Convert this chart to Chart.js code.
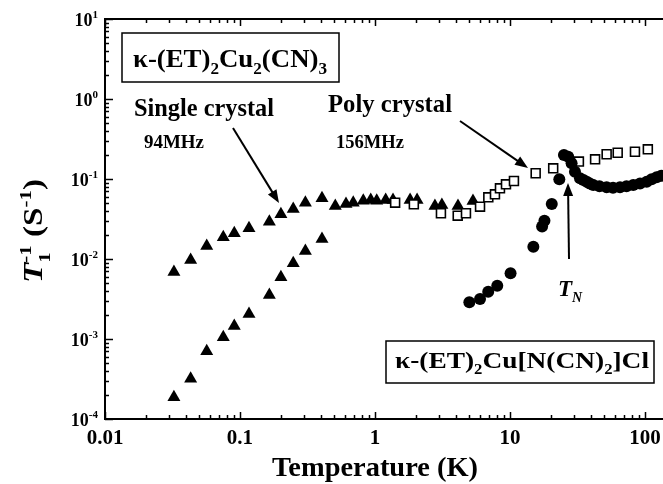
<!DOCTYPE html>
<html>
<head>
<meta charset="utf-8">
<script src="https://cdn.jsdelivr.net/npm/chart.js@4.4.0/dist/chart.umd.min.js"></script>
<style>
html, body { margin: 0; padding: 0; background: #fff; }
</style>
</head>
<body>
<canvas id="t1chart" width="663" height="484"></canvas>
<script>
// kappa-(ET)2Cu2(CN)3, single crystal 94MHz (two components)
var singleT = [0.0324, 0.0431, 0.0567, 0.0752, 0.0907, 0.1166, 0.165, 0.201, 0.248, 0.305, 0.405,
  0.508, 0.61, 0.69, 0.819, 0.93, 1.03, 1.2, 1.36, 1.82, 2.05, 2.78, 3.13, 4.12, 5.32];
var singleRate = [0.00688, 0.00972, 0.01454, 0.01866, 0.02095, 0.0242, 0.0292, 0.0362, 0.0422, 0.0506, 0.0574,
  0.046, 0.0487, 0.0506, 0.0536, 0.0546, 0.0536, 0.0546, 0.0546, 0.0546, 0.0546, 0.046, 0.0473, 0.046, 0.053];
var singleLowT = [0.0324, 0.0431, 0.0567, 0.0752, 0.0907, 0.1166, 0.165, 0.201, 0.248, 0.305, 0.405];
var singleLowRate = [0.000187, 0.000319, 0.000702, 0.00105, 0.00145, 0.00205, 0.00355, 0.0059, 0.00884, 0.0126, 0.0178];

// poly crystal 156MHz
var polyT = [1.41, 1.94, 3.08, 4.1, 4.72, 6.0, 6.91, 7.74, 8.43, 9.34, 10.7, 15.5, 20.9, 32.4, 42.7, 52, 62.8, 84.3, 105];
var polyRate = [0.0506, 0.0483, 0.0373, 0.0348, 0.0373, 0.0451, 0.059, 0.0644, 0.0765, 0.0859, 0.0944,
  0.118, 0.136, 0.165, 0.176, 0.204, 0.213, 0.219, 0.235];

// kappa-(ET)2Cu[N(CN)2]Cl
var clT = [5.0, 6.0, 6.9, 8.05, 10.1, 14.9, 17.3, 18, 20.4, 23.2, 25.1, 27, 28.6, 30.3, 33, 35, 37, 39, 41.4,
  46, 52, 58, 65.3, 73, 81.9, 92, 103, 112, 122, 132];
var clRate = [0.00288, 0.00316, 0.0039, 0.00464, 0.00663, 0.01425, 0.0254, 0.0301, 0.0487, 0.099, 0.2, 0.19,
  0.157, 0.123, 0.102, 0.097, 0.0925, 0.088, 0.0841, 0.081, 0.0787, 0.078, 0.0787, 0.081, 0.0841, 0.088,
  0.0925, 0.099, 0.105, 0.11];

var tempTicks = [0.01, 0.1, 1, 10, 100];
var tempTickLabels = ["0.01", "0.1", "1", "10", "100"];
var rateTicks = [1e-4, 1e-3, 1e-2, 1e-1, 1, 10];
var rateTickExp = ["-4", "-3", "-2", "-1", "0", "1"];

function pts(xs, ys) {
  return xs.map(function (x, i) { return { x: x, y: ys[i] }; });
}

var SERIF = '"Liberation Serif", "Times New Roman", serif';

// draws text with sub/superscripts; parts: {t, sub, sup, it, hold}
// fitW (optional) stretches the run horizontally to that width
function richText(ctx, parts, x, y, size, align, fitW) {
  function font(p) {
    var s = (p.sub || p.sup) ? Math.round(size * 0.62) : size;
    return (p.it ? "italic " : "") + "bold " + s + "px " + SERIF;
  }
  parts.forEach(function (p) { ctx.font = font(p); p.w = ctx.measureText(p.t).width; });
  var total = 0, hold = 0;
  parts.forEach(function (p) {
    if (p.hold) hold = p.w; else { total += Math.max(p.w, hold); hold = 0; }
  });
  var k = fitW ? fitW / total : 1;
  var w = total * k;
  var left = align === "center" ? x - w / 2 : align === "right" ? x - w : x;
  ctx.save();
  ctx.translate(left, y);
  ctx.scale(k, 1);
  ctx.textAlign = "left";
  ctx.textBaseline = "alphabetic";
  var cx = 0;
  hold = 0;
  parts.forEach(function (p) {
    ctx.font = font(p);
    var dy = p.sub ? size * 0.28 : p.sup ? -size * 0.42 : 0;
    ctx.fillText(p.t, cx, dy);
    if (p.hold) hold = p.w; else { cx += Math.max(p.w, hold); hold = 0; }
  });
  ctx.restore();
}

function arrow(ctx, x1, y1, x2, y2) {
  var ang = Math.atan2(y2 - y1, x2 - x1), hl = 13, hw = 5;
  ctx.beginPath();
  ctx.moveTo(x1, y1);
  ctx.lineTo(x2 - Math.cos(ang) * hl * 0.8, y2 - Math.sin(ang) * hl * 0.8);
  ctx.stroke();
  ctx.beginPath();
  ctx.moveTo(x2, y2);
  ctx.lineTo(x2 - Math.cos(ang) * hl - Math.sin(ang) * hw, y2 - Math.sin(ang) * hl + Math.cos(ang) * hw);
  ctx.lineTo(x2 - Math.cos(ang) * hl + Math.sin(ang) * hw, y2 - Math.sin(ang) * hl - Math.cos(ang) * hw);
  ctx.closePath();
  ctx.fill();
}

var framePlugin = {
  id: "frame",
  afterDraw: function (chart) {
    var ctx = chart.ctx, a = chart.chartArea, xs = chart.scales.x, ys = chart.scales.y;
    ctx.save();
    ctx.strokeStyle = "#000";
    ctx.fillStyle = "#000";

    // axes frame (right side runs off the picture)
    ctx.lineWidth = 2;
    ctx.beginPath();
    ctx.moveTo(a.right + 2, a.top);
    ctx.lineTo(a.left, a.top);
    ctx.lineTo(a.left, a.bottom);
    ctx.lineTo(a.right + 2, a.bottom);
    ctx.stroke();

    // minor and major ticks, pointing inward
    ctx.lineWidth = 1.5;
    tempTicks.forEach(function (d) {
      for (var m = 1; m <= 9; m++) {
        var v = d * m;
        if (v > xs.max) break;
        var px = Math.round(xs.getPixelForValue(v)) + 0.5, len = m === 1 ? 7 : 4;
        ctx.beginPath();
        ctx.moveTo(px, a.bottom); ctx.lineTo(px, a.bottom - len);
        ctx.moveTo(px, a.top); ctx.lineTo(px, a.top + len);
        ctx.stroke();
      }
    });
    rateTicks.forEach(function (d) {
      for (var m = 1; m <= 9; m++) {
        var v = d * m;
        if (v > ys.max) break;
        var py = Math.round(ys.getPixelForValue(v)) + 0.5, len = m === 1 ? 8 : 4;
        ctx.beginPath();
        ctx.moveTo(a.left, py); ctx.lineTo(a.left + len, py);
        ctx.stroke();
      }
    });

    // tick labels
    ctx.textAlign = "center";
    ctx.textBaseline = "middle";
    ctx.font = "bold 21px " + SERIF;
    tempTicks.forEach(function (v, i) {
      ctx.fillText(tempTickLabels[i], xs.getPixelForValue(v), 439);
    });
    rateTicks.forEach(function (v, i) {
      richText(ctx, [{ t: "10" }, { t: rateTickExp[i], sup: true }], 98, ys.getPixelForValue(v) + 7, 18, "right");
    });

    // axis titles
    richText(ctx, [{ t: "Temperature (K)" }], 375, 476, 27, "center", 206);
    ctx.save();
    ctx.translate(33, 231);
    ctx.rotate(-Math.PI / 2);
    richText(ctx, [{ t: "T", it: true }, { t: "-1", sup: true, hold: true }, { t: "1", sub: true },
      { t: " (S" }, { t: "-1", sup: true }, { t: ")" }], 0, 9, 27, "center", 104);
    ctx.restore();

    // compound boxes
    ctx.lineWidth = 1.5;
    ctx.fillStyle = "#fff";
    ctx.fillRect(122, 33, 217, 49);
    ctx.fillRect(386, 341, 268, 42);
    ctx.fillStyle = "#000";
    ctx.strokeRect(122, 33, 217, 49);
    ctx.strokeRect(386, 341, 268, 42);
    richText(ctx, [{ t: "\u03BA-(ET)" }, { t: "2", sub: true }, { t: "Cu" }, { t: "2", sub: true },
      { t: "(CN)" }, { t: "3", sub: true }], 230, 67, 25, "center", 194);
    richText(ctx, [{ t: "\u03BA-(ET)" }, { t: "2", sub: true }, { t: "Cu[N(CN)" }, { t: "2", sub: true },
      { t: "]Cl" }], 522, 368, 23, "center", 254);

    // sample labels
    richText(ctx, [{ t: "Single crystal" }], 134, 116, 25, "left", 140);
    richText(ctx, [{ t: "Poly crystal" }], 328, 112, 25, "left", 124);
    richText(ctx, [{ t: "94MHz" }], 144, 148, 18, "left", 60);
    richText(ctx, [{ t: "156MHz" }], 336, 148, 18, "left", 68);

    // arrows
    ctx.lineWidth = 2;
    arrow(ctx, 233, 128, 279, 203);
    arrow(ctx, 460, 121, 528, 168);
    arrow(ctx, 569, 259, 568, 183);

    richText(ctx, [{ t: "T", it: true }, { t: "N", sub: true, it: true }], 570, 296, 23, "center");
    ctx.restore();
  }
};

new Chart("t1chart", {
  type: "scatter",
  data: {
    datasets: [{
      data: pts(clT, clRate),
      pointStyle: "circle",
      pointRadius: 6,
      backgroundColor: "#000",
      borderColor: "#000",
      borderWidth: 0
    }, {
      data: pts(polyT, polyRate),
      pointStyle: "rect",
      pointRadius: 6.3,
      backgroundColor: "#fff",
      borderColor: "#000",
      borderWidth: 1.6
    }, {
      data: pts(singleT, singleRate),
      pointStyle: "triangle",
      pointRadius: 7.5,
      backgroundColor: "#000",
      borderColor: "#000",
      borderWidth: 0
    }, {
      data: pts(singleLowT, singleLowRate),
      pointStyle: "triangle",
      pointRadius: 7.5,
      backgroundColor: "#000",
      borderColor: "#000",
      borderWidth: 0
    }]
  },
  options: {
    responsive: false,
    animation: false,
    layout: { autoPadding: false, padding: { left: 105, top: 19, right: 0, bottom: 65 } },
    plugins: { legend: { display: false }, tooltip: { enabled: false } },
    scales: {
      x: {
        type: "logarithmic", min: 0.01, max: 136,
        grid: { display: false, drawTicks: false },
        border: { display: false },
        ticks: { display: false }
      },
      y: {
        type: "logarithmic", min: 1e-4, max: 10,
        grid: { display: false, drawTicks: false },
        border: { display: false },
        ticks: { display: false }
      }
    }
  },
  plugins: [framePlugin]
});
</script>
</body>
</html>
